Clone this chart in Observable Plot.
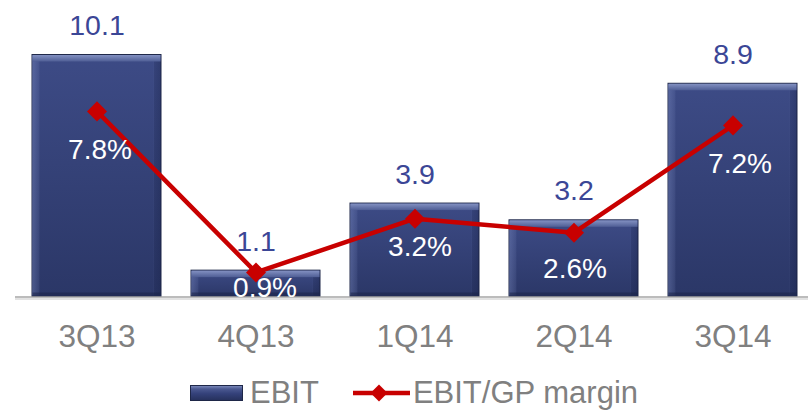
<!DOCTYPE html>
<html>
<head>
<meta charset="utf-8">
<script src="https://cdn.jsdelivr.net/npm/d3@7"></script>
<script src="https://cdn.jsdelivr.net/npm/@observablehq/plot@0.6"></script>
<style>
  body { margin: 0; background: #fff; font-family: "Liberation Sans", Arial, sans-serif; }
  #wrap { position: relative; width: 808px; height: 411px; overflow: hidden; }
  #chart svg { display: block; }
  .legend { position: absolute; left: 190px; top: 375px; height: 36px; display: flex; align-items: center;
            color: #808080; font-size: 31px; white-space: nowrap; }
  .legend .sw { width: 51px; height: 14px; border: 1px solid #1e2748; box-sizing: content-box;
                background: linear-gradient(#7886b8 0, #4a5890 22%, #34417a 55%, #27325e 100%); }
  .legend .t1 { margin-left: 7px; }
  .legend svg { margin-left: 34px; display: block; }
  .legend .t2 { margin-left: 3px; }
</style>
</head>
<body>
<div id="wrap">
  <div id="chart"></div>
  <div class="legend" id="legend"></div>
</div>
<script>
// ---- data ----
const quarters = ["3Q13", "4Q13", "1Q14", "2Q14", "3Q14"];
const ebitValues = [10.1, 1.1, 3.9, 3.2, 8.9];
const marginValues = [7.8, 0.9, 3.2, 2.6, 7.2];
const seriesNames = ["EBIT", "EBIT/GP margin"];

const data = quarters.map((q, i) => ({ q, ebit: ebitValues[i], margin: marginValues[i] }));

// secondary axis (margin, %) expressed in primary (EBIT) units
const secondary = m => m * 0.974 + 0.15;

const NAVY_TEXT = "#3b4696";
const RED = "#c80000";
const FONT = "Liberation Sans, Arial, sans-serif";

// SVG gradient definitions as a render-function mark
const defs = () => {
  const d = d3.create("svg:defs");
  const face = d.append("linearGradient").attr("id", "barFace").attr("x1", 0).attr("y1", 0).attr("x2", 0).attr("y2", 1);
  face.append("stop").attr("offset", "0%").attr("stop-color", "#3d4b86");
  face.append("stop").attr("offset", "100%").attr("stop-color", "#2b3767");
  const side = d.append("linearGradient").attr("id", "barSide").attr("x1", 0).attr("y1", 0).attr("x2", 1).attr("y2", 0);
  side.append("stop").attr("offset", "0%").attr("stop-color", "#8a9ad0").attr("stop-opacity", 0.35);
  side.append("stop").attr("offset", "5.5%").attr("stop-color", "#8a9ad0").attr("stop-opacity", 0.12);
  side.append("stop").attr("offset", "6%").attr("stop-color", "#8a9ad0").attr("stop-opacity", 0);
  side.append("stop").attr("offset", "94%").attr("stop-color", "#8a9ad0").attr("stop-opacity", 0);
  side.append("stop").attr("offset", "94.5%").attr("stop-color", "#10183a").attr("stop-opacity", 0.15);
  side.append("stop").attr("offset", "100%").attr("stop-color", "#10183a").attr("stop-opacity", 0.3);
  const top = d.append("linearGradient").attr("id", "barTop").attr("x1", 0).attr("y1", 0).attr("x2", 0).attr("y2", 1);
  top.append("stop").attr("offset", "0%").attr("stop-color", "#8391c2");
  top.append("stop").attr("offset", "100%").attr("stop-color", "#4f5e95");
  return d.node();
};

// percent label placement relative to the markers (layout only)
const pctOffset = { "3Q13": [3, 39], "4Q13": [9, 16], "1Q14": [5, 28], "2Q14": [1, 36], "3Q14": [7, 39] };

const pctLabels = data.map(d => Plot.text([d], {
  x: "q", y: r => secondary(r.margin), text: r => r.margin.toFixed(1) + "%",
  dx: pctOffset[d.q][0], dy: pctOffset[d.q][1],
  fill: "white", fontSize: 28, fontFamily: FONT
}));

const chart = Plot.plot({
  width: 808,
  height: 360,
  marginLeft: 31,
  marginRight: 10.3,
  marginTop: 9,
  marginBottom: 63.5,
  style: { fontFamily: FONT, background: "white" },
  x: { type: "band", domain: quarters, paddingInner: 0.19, paddingOuter: 0, label: null },
  y: { domain: [0, 12], axis: null },
  marks: [
    defs,
    // bars: face, side shading, top bevel, bottom shade
    Plot.barY(data, { x: "q", y: "ebit", fill: "url(#barFace)", stroke: "#1e2748", strokeWidth: 1 }),
    Plot.barY(data, { x: "q", y: "ebit", fill: "url(#barSide)", insetTop: 1, insetBottom: 1 }),
    Plot.barY(data, { x: "q", y1: "ebit", y2: "ebit", fill: "url(#barTop)", insetTop: 0.5, insetBottom: -7, insetLeft: 0.5, insetRight: 0.5 }),
    Plot.barY(data, { x: "q", y1: 0, y2: 0, fill: "#1c2448", fillOpacity: 0.55, insetTop: -4, insetLeft: 0.5, insetRight: 0.5 }),
    // baseline
    Plot.ruleY([0], { stroke: "#e2e2e2", strokeWidth: 2, dy: 2, insetLeft: -16, insetRight: -11 }),
    Plot.ruleY([0], { stroke: "#a6a6a6", strokeWidth: 1.6, insetLeft: -16, insetRight: -11 }),
    // x axis labels
    Plot.axisX({ tickSize: 0, tickPadding: 28, fontSize: 31.5, fill: "#808080", label: null }),
    // EBIT value labels
    Plot.text(data, { x: "q", y: "ebit", text: d => d.ebit.toFixed(1), dy: -29, fontSize: 28.5, fill: NAVY_TEXT }),
    // margin line
    Plot.line(data, { x: "q", y: d => secondary(d.margin), stroke: RED, strokeWidth: 4.5, curve: "linear" }),
    Plot.dot(data, { x: "q", y: d => secondary(d.margin), symbol: "square", r: 8, rotate: 45, fill: RED, stroke: "none" }),
    ...pctLabels
  ]
});
document.getElementById("chart").appendChild(chart);

// legend
const legend = document.getElementById("legend");
legend.innerHTML =
  `<span class="sw"></span><span class="t1">${seriesNames[0]}</span>` +
  `<svg width="57" height="22"><line x1="0" y1="11" x2="57" y2="11" stroke="${RED}" stroke-width="4.5"/>` +
  `<rect x="20" y="5" width="12" height="12" fill="${RED}" transform="rotate(45 26 11)"/></svg>` +
  `<span class="t2">${seriesNames[1]}</span>`;
</script>
</body>
</html>
